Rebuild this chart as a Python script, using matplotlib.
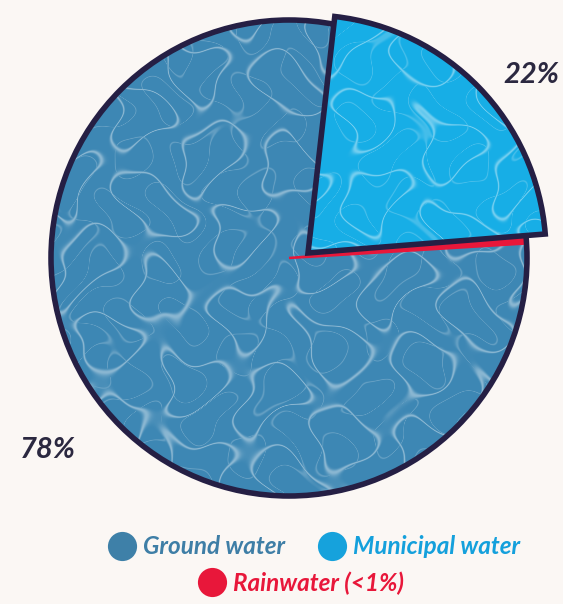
import numpy as np
import matplotlib.pyplot as plt
from matplotlib.patches import Circle, Wedge
from matplotlib.lines import Line2D

# ------------------------------------------------
# Dados
# ------------------------------------------------
categorias = ['Rainwater (<1%)', 'Municipal water', 'Ground water']
valores = [0.3, 22, 78]
rotulos_pct = ['', '22%', '78%']
cores = ['#e8173a', '#17aee6', '#3d87b4']

FUNDO = '#fbf7f4'
NAVY = '#251f44'

W, H = 563, 604
fig = plt.figure(figsize=(W / 100, H / 100), dpi=100, facecolor=FUNDO)
ax = fig.add_axes([0, 0, 1, 1])
ax.set_facecolor(FUNDO)

CX, CY, R = 289, H - 258, 238

# disco de fundo (agua subterranea) - cobre a folga do recorte deslocado
disco = Circle((CX, CY), R, facecolor=cores[2], edgecolor='none', zorder=1)
ax.add_patch(disco)

wedges, _ = ax.pie(valores, colors=cores, startangle=3.5, counterclock=True,
                   center=(CX, CY), radius=R,
                   wedgeprops=dict(linewidth=0))
rain, muni, ground = wedges
ground.set_zorder(2)
rain.set_zorder(3.5)
rain.set_edgecolor(cores[0])
rain.set_linewidth(1.8)

# recorte da agua municipal deslocado para a direita
muni.set_center((CX + 19, CY + 5))
muni.set_zorder(5)


# textura de "agua" (caustica) - padrao deterministico
def textura(fase):
    xx, yy = np.meshgrid(np.arange(W), np.arange(H))
    xw = xx + 11 * np.sin(yy / 21.0 + fase) + 6 * np.sin(yy / 9.0 + 2 * fase)
    yw = yy + 11 * np.sin(xx / 25.0 + fase) + 6 * np.cos(xx / 10.0)
    k = 2 * np.pi / 75
    f1 = sum(np.cos(k * (xw * np.cos(a) + yw * np.sin(a)) + p)
             for a, p in [(0.2, 0.3), (1.25, 1.7), (2.3, 2.9)])
    k2 = 2 * np.pi / 52
    f2 = sum(np.cos(k2 * (xw * np.cos(a) + yw * np.sin(a)) + p)
             for a, p in [(0.7, 0.1), (1.9, 2.2), (2.8, 0.9)])
    linhas = np.maximum(np.exp(-(f1 / 0.12) ** 2), 0.5 * np.exp(-(f2 / 0.1) ** 2))
    img = np.ones((H, W, 4))
    img[..., 3] = linhas * 0.4
    return img[::-1]


tex_g = ax.imshow(textura(0.0), extent=(0, W, 0, H), zorder=3, interpolation='bilinear')
tex_g.set_clip_path(disco)

contorno = Circle((CX, CY), R, fill=False, edgecolor=NAVY, linewidth=4, zorder=4)
ax.add_patch(contorno)

tex_m = ax.imshow(textura(1.3), extent=(0, W, 0, H), zorder=5.5, interpolation='bilinear')
tex_m.set_clip_path(muni)
ax.add_patch(Wedge(muni.center, muni.r, muni.theta1, muni.theta2, fill=False,
                   edgecolor=NAVY, linewidth=4, joinstyle='miter', zorder=6))

# rotulos de porcentagem
fonte = ['Lato', 'DejaVu Sans']
ax.text(531, H - 75, rotulos_pct[1], ha='center', va='center', fontsize=21,
        style='italic', weight='bold', color='#2b2840', family=fonte)
ax.text(48, H - 450, rotulos_pct[2], ha='center', va='center', fontsize=21,
        style='italic', weight='bold', color='#2b2840', family=fonte)

ax.set_xlim(0, W)
ax.set_ylim(0, H)
ax.set_aspect('equal')
ax.axis('off')

# legenda em duas linhas
def marcador(c):
    return Line2D([], [], marker='o', ls='', markersize=21, markerfacecolor=c,
                  markeredgecolor='none')

leg_txt = dict(family=fonte, style='italic', size=17.5, weight='bold')
leg1 = fig.legend([marcador('#3e80a8'), marcador('#16a2dc')],
                  ['Ground water', 'Municipal water'], ncol=2,
                  loc='center', bbox_to_anchor=(0.558, 1 - 547 / H),
                  frameon=False, prop=leg_txt, handletextpad=0.3,
                  columnspacing=1.4, handlelength=1.1,
                  labelcolor=['#3e7ea6', '#14a0dc'])
leg2 = fig.legend([marcador('#e8173a')], ['Rainwater (<1%)'],
                  loc='center', bbox_to_anchor=(0.535, 1 - 583 / H),
                  frameon=False, prop=leg_txt, handletextpad=0.3,
                  handlelength=1.1, labelcolor=['#e8173a'])

fig.savefig('out.png', dpi=100, facecolor=FUNDO)
